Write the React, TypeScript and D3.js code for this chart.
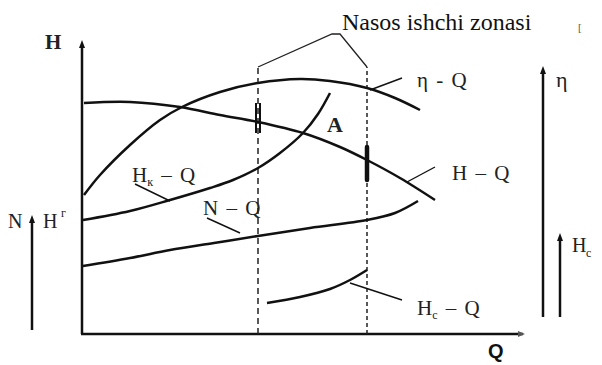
import React from "react";
import * as d3 from "d3";

// curves, [Q, value] in chart units
const headCurve: [number, number][] = [
  [0.2, 23.1], [4.8, 23.2], [9.8, 22.7], [13.8, 21.9], [17.6, 21.2],
  [22.1, 20.1], [25.8, 18.7], [28.5, 17.4], [31.8, 15.6], [35.3, 13.4],
];
const effCurve: [number, number][] = [
  [0.2, 13.9], [1.8, 15.9], [4.8, 18.9], [7.8, 21.4], [10.0, 22.7],
  [13.8, 24.2], [17.6, 25.1], [21.8, 25.5], [24.8, 25.3], [28.5, 24.6],
  [31.3, 23.6], [33.8, 22.4],
];
const systemCurve: [number, number][] = [
  [0.1, 11.4], [4.8, 12.3], [8.8, 13.4], [12.8, 14.6], [15.1, 15.4],
  [17.6, 16.6], [19.8, 18.1], [22.1, 20.1], [23.6, 22.0], [24.8, 24.1],
];
const powerCurve: [number, number][] = [
  [0.1, 6.8], [4.8, 7.6], [8.8, 8.4], [13.2, 9.1], [17.6, 9.8],
  [22.8, 10.6], [28.5, 11.4], [31.3, 12.1], [33.6, 13.3],
];
const suctionCurve: [number, number][] = [
  [18.5, 3.1], [21.8, 3.7], [24.8, 4.5], [26.8, 5.4], [28.5, 6.4],
];

const zoneBounds = [17.6, 28.5];
const zoneTop = 26.7;
const bracket: [number, number][] = [
  [17.6, 26.7], [25.0, 30.0], [25.8, 30.0], [28.5, 26.7],
];

// labels: text, sub, anchor point, leader from -> to
const curveLabels = [
  { text: "H", sub: "к", rest: " – Q", at: [5.0, 15.2], from: [5.3, 15.0], to: [8.8, 13.3] },
  { text: "N", sub: "", rest: " – Q", at: [12.1, 11.9], from: [12.5, 11.6], to: [15.8, 10.1] },
  { text: "H", sub: "", rest: " – Q", at: [37.0, 15.4], from: [32.5, 15.2], to: [35.3, 16.7] },
  { text: "η", sub: "", rest: " - Q", at: [33.5, 24.7], from: [28.8, 24.4], to: [32.0, 25.6] },
  { text: "H", sub: "c", rest: " – Q", at: [33.5, 1.9], from: [26.8, 5.1], to: [32.0, 3.4] },
];

const width = 602;
const height = 365;

const x = d3.scaleLinear().domain([0, 44.1]).range([82, 523]);
const y = d3.scaleLinear().domain([0, 29.2]).range([334, 42]);

const line = d3
  .line<[number, number]>()
  .x((d) => x(d[0]))
  .y((d) => y(d[1]))
  .curve(d3.curveCatmullRom.alpha(0.5));

const straight = d3
  .line<[number, number]>()
  .x((d) => x(d[0]))
  .y((d) => y(d[1]));

const serif = "'Liberation Serif', 'DejaVu Serif', serif";

const ArrowUp = ({ cx, cy }: { cx: number; cy: number }) => (
  <path d={`M${cx},${cy} L${cx - 3},${cy + 8} L${cx + 3},${cy + 8} Z`} fill="#111" />
);

export default function App() {
  return (
    <svg
      width={width}
      height={height}
      style={{ position: "absolute", left: 0, top: 0, background: "#fff" }}
    >
      {/* main axes */}
      <line x1={x(0)} y1={y(0)} x2={x(0)} y2={y(29.2) + 4} stroke="#111" strokeWidth={2.5} />
      <ArrowUp cx={x(0)} cy={y(29.2) - 2} />
      <line x1={x(0) - 1} y1={y(0)} x2={x(44.1)} y2={y(0)} stroke="#111" strokeWidth={2.5} />
      <path d={`M${x(44.1) + 2},${y(0)} L${x(44.1) - 5},${y(0) - 3} L${x(44.1) - 5},${y(0) + 3} Z`} fill="#555" />
      <text x={45} y={49} fontFamily={serif} fontSize={21} fontWeight="bold" fill="#222">H</text>
      <text x={488} y={358} fontFamily="'Liberation Sans', Arial, sans-serif" fontSize={20} fontWeight="bold" fill="#111">Q</text>

      {/* side axes */}
      <line x1={32} y1={221} x2={32} y2={330} stroke="#111" strokeWidth={2.5} />
      <ArrowUp cx={32} cy={215} />
      <text x={8} y={228} fontFamily={serif} fontSize={20} fill="#222">N</text>
      <text x={43} y={228} fontFamily={serif} fontSize={20} fill="#222">H</text>
      <text x={61} y={217} fontFamily={serif} fontSize={12} fill="#222">г</text>

      <line x1={543} y1={72} x2={543} y2={317} stroke="#111" strokeWidth={2.5} />
      <ArrowUp cx={543} cy={66} />
      <text x={556} y={87} fontFamily={serif} fontSize={22} fill="#222">η</text>

      <line x1={560} y1={239} x2={560} y2={317} stroke="#111" strokeWidth={2.5} />
      <ArrowUp cx={560} cy={233} />
      <text x={572} y={252} fontFamily={serif} fontSize={20} fill="#222">H</text>
      <text x={586} y={257} fontFamily={serif} fontSize={12} fill="#222">c</text>

      {/* working zone */}
      {zoneBounds.map((q, i) => (
        <line
          key={i}
          x1={x(q)}
          y1={y(0)}
          x2={x(q)}
          y2={y(zoneTop)}
          stroke="#222"
          strokeWidth={1.5}
          strokeDasharray={i === 0 ? "6,4" : "4,3"}
        />
      ))}
      <path d={straight(bracket) ?? ""} fill="none" stroke="#222" strokeWidth={1.3} />
      <text x={x(26.0)} y={y(30.4)} fontFamily={serif} fontSize={24} fill="#111">
        Nasos ishchi zonasi
      </text>
      <text x={578} y={31} fontFamily={serif} fontSize={11} fill="#555">[</text>

      {/* curves */}
      {[headCurve, effCurve, systemCurve, powerCurve, suctionCurve].map((c, i) => (
        <path key={i} d={line(c) ?? ""} fill="none" stroke="#111" strokeWidth={2.5} />
      ))}

      {/* zone marks on H-Q */}
      <line x1={x(zoneBounds[0]) - 2} y1={y(23.1)} x2={x(zoneBounds[0]) - 2} y2={y(20.1)} stroke="#111" strokeWidth={2} />
      <line x1={x(zoneBounds[0]) + 2} y1={y(23.1)} x2={x(zoneBounds[0]) + 2} y2={y(20.1)} stroke="#111" strokeWidth={2} />
      <line x1={x(zoneBounds[1])} y1={y(18.7)} x2={x(zoneBounds[1])} y2={y(15.4)} stroke="#111" strokeWidth={4.5} strokeLinecap="round" />

      {/* labels */}
      {curveLabels.map((l, i) => (
        <g key={i}>
          <line
            x1={x(l.from[0])}
            y1={y(l.from[1])}
            x2={x(l.to[0])}
            y2={y(l.to[1])}
            stroke="#111"
            strokeWidth={1.4}
          />
          <text x={x(l.at[0])} y={y(l.at[1])} fontFamily={serif} fontSize={21} fill="#222" style={{ whiteSpace: "pre" }}>
            {l.text}
            {l.sub && (
              <tspan fontSize={12} dy={4}>
                {l.sub}
              </tspan>
            )}
            <tspan dy={l.sub ? -4 : 0} wordSpacing={3}>
              {l.rest}
            </tspan>
          </text>
        </g>
      ))}
      <text x={x(24.5)} y={y(20.2)} fontFamily={serif} fontSize={22} fontWeight="bold" fill="#222">A</text>
    </svg>
  );
}
